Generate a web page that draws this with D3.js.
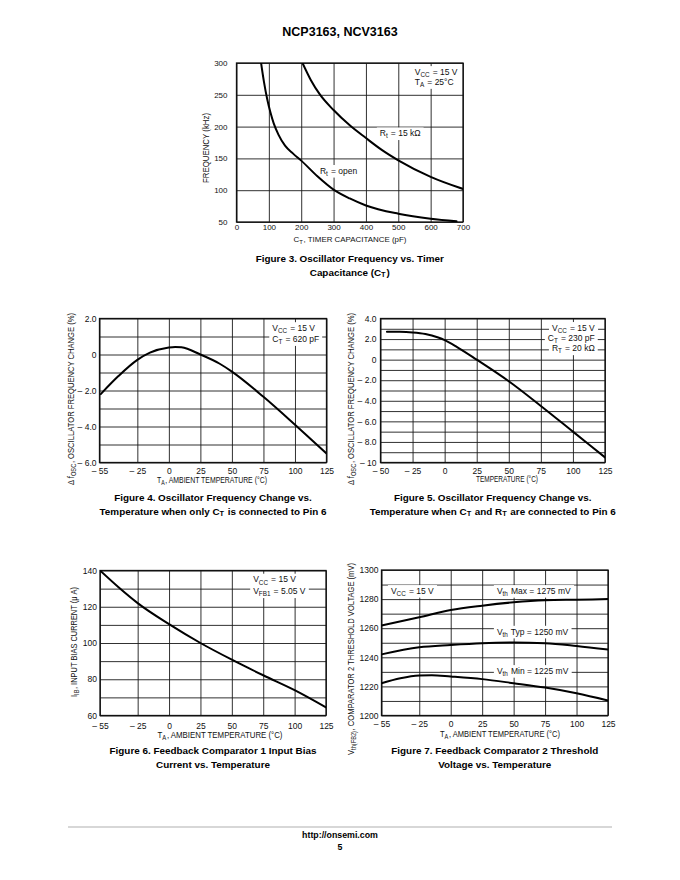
<!DOCTYPE html>
<html><head><meta charset="utf-8">
<script src="https://cdn.jsdelivr.net/npm/d3@7"></script>
<style>body{margin:0;background:#fff}svg{display:block}</style>
</head><body>
<script>
// ---------------- DATA ----------------
// Figure 3: frequency vs timer capacitance
const fig3CtOpen = [76, 85, 95, 105, 115, 130, 150, 175, 200, 250, 300, 350, 400, 500, 600, 680];
const fig3FreqOpen = [300, 270, 243, 222, 205, 187, 170, 157.5, 146.5, 122, 101, 87, 76, 63, 55, 51];
const fig3Ct15k = [204, 230, 257, 300, 350, 400, 450, 500, 600, 700];
const fig3Freq15k = [300, 273, 251, 226, 202, 182, 163, 147, 121, 102];
const fig3XTicks = [0, 100, 200, 300, 400, 500, 600, 700];
const fig3XLabels = ["0", "100", "200", "300", "400", "500", "600", "700"];
const fig3YTicks = [50, 100, 150, 200, 250, 300];
const fig3YLabels = ["50", "100", "150", "200", "250", "300"];

// Figure 4: oscillator freq change (CT only)
const fig4Temp = [-54, -40, -25, -15, 0, 5, 10, 25, 40, 50, 75, 100, 125];
const fig4Change = [-2.2, -1.2, -0.3, 0.1, 0.39, 0.42, 0.4, 0.0, -0.5, -0.95, -2.35, -3.9, -5.5];
const tempTicks55 = [-55, -25, 0, 25, 50, 75, 100, 125];
const tempLabels55 = ["– 55", "– 25", "0", "25", "50", "75", "100", "125"];
const fig4YTicks = [2, 0, -2, -4, -6];
const fig4YLabels = ["2.0", "0", "– 2.0", "– 4.0", "– 6.0"];

// Figure 5: oscillator freq change (CT and RT)
const fig5Temp = [-45, -35, -25, -15, -5, 0, 10, 25, 50, 75, 100, 125];
const fig5Change = [2.7, 2.7, 2.65, 2.5, 2.15, 1.9, 1.2, 0.0, -2.1, -4.5, -7.0, -9.5];
const fig5XTicks = [-50, -25, 0, 25, 50, 75, 100, 125];
const fig5XLabels = ["– 50", "– 25", "0", "25", "50", "75", "100", "125"];
const fig5YTicks = [4, 2, 0, -2, -4, -6, -8, -10];
const fig5YLabels = ["4.0", "2.0", "0", "– 2.0", "– 4.0", "– 6.0", "– 8.0", "– 10"];

// Figure 6: input bias current
const fig6Temp = [-55, -40, -25, 0, 25, 50, 75, 100, 125];
const fig6Current = [140, 130.6, 122, 110.4, 100, 90.8, 82.2, 74, 64.5];
const fig6YTicks = [60, 80, 100, 120, 140];
const fig6YLabels = ["60", "80", "100", "120", "140"];

// Figure 7: comparator 2 threshold voltage
const fig7Temp = [-55, -25, 0, 25, 50, 75, 100, 125];
const fig7Max = [1261.8, 1267.5, 1272.5, 1275.5, 1277.8, 1279.2, 1279.6, 1280];
const fig7Typ = [1242, 1246.9, 1248.5, 1249.7, 1250.1, 1249.7, 1247.8, 1245.3];
const fig7TempMin = [-55, -40, -25, -15, 0, 25, 50, 75, 100, 125];
const fig7Min = [1222.2, 1225.6, 1227.5, 1227.7, 1226.8, 1225, 1222.2, 1219.2, 1215.3, 1210.3];
const fig7YTicks = [1200, 1220, 1240, 1260, 1280, 1300];
const fig7YLabels = ["1200", "1220", "1240", "1260", "1280", "1300"];

// ---------------- DRAWING ----------------
const FONT = "'Liberation Sans Narrow','Liberation Sans',Arial,sans-serif";
const BOLD = "'Liberation Sans',Arial,sans-serif";
const svg = d3.select("body").append("svg").attr("width", 680).attr("height", 880)
  .style("background", "#fff");

function rich(sel, parts, size) {
  parts.forEach(p => {
    if (typeof p === "string") sel.append("tspan").text(p);
    else {
      sel.append("tspan").attr("font-size", size * 0.75).attr("dy", size * 0.25).text(p.sub);
      sel.append("tspan").attr("dy", -size * 0.25).text("\u200A");
    }
  });
}

function chart(c) {
  const fs = c.fs || 8.5;
  const g = svg.append("g").attr("transform", `translate(${c.left},${c.top})`);
  const x = d3.scaleLinear().domain(c.xDomain).range([0, c.w]);
  const y = d3.scaleLinear().domain(c.yDomain).range([c.h, 0]);
  // grid via axes
  const gx = g.append("g").attr("transform", `translate(0,${c.h})`)
    .call(d3.axisBottom(x).tickValues(c.xGrid).tickSizeInner(-c.h).tickSizeOuter(0).tickFormat(""));
  const gy = g.append("g")
    .call(d3.axisLeft(y).tickValues(c.yGrid).tickSizeInner(-c.w).tickSizeOuter(0).tickFormat(""));
  [gx, gy].forEach(a => { a.select(".domain").remove(); a.selectAll("line").attr("stroke", "#1a1a1a").attr("stroke-width", 0.9); });
  // tick labels
  const lx = g.append("g").attr("transform", `translate(0,${c.h})`)
    .call(d3.axisBottom(x).tickValues(c.xTicks).tickSize(0).tickPadding(c.xPad)
      .tickFormat((d, i) => c.xLabels[i]));
  const ly = g.append("g")
    .call(d3.axisLeft(y).tickValues(c.yTicks).tickSize(0).tickPadding(c.yPad)
      .tickFormat((d, i) => c.yLabels[i]));
  [lx, ly].forEach(a => {
    a.select(".domain").remove();
    a.selectAll("text").attr("font-family", FONT).attr("font-size", fs).attr("fill", "#111");
  });
  // frame
  g.append("rect").attr("width", c.w).attr("height", c.h).attr("fill", "none")
    .attr("stroke", "#111").attr("stroke-width", 1.3);
  // annotations with white background
  const ann = g.append("g");
  (c.notes || []).forEach(n => {
    const t = ann.append("text").attr("x", x(n.x)).attr("y", y(n.y))
      .attr("font-family", FONT).attr("font-size", 8.5).attr("fill", "#111")
      .attr("dominant-baseline", "middle").attr("text-anchor", n.anchor || "start");
    rich(t, n.parts, 8.5);
  });
  // curves
  const clipId = "clip" + c.id;
  g.append("clipPath").attr("id", clipId).append("rect").attr("width", c.w).attr("height", c.h);
  const line = d3.line().x(d => x(d[0])).y(d => y(d[1])).curve(d3.curveMonotoneX);
  c.series.forEach(s => {
    g.append("path").attr("clip-path", `url(#${clipId})`)
      .datum(s.xs.map((v, i) => [v, s.ys[i]]))
      .attr("d", line).attr("fill", "none").attr("stroke", "#000").attr("stroke-width", 2)
      .attr("stroke-linecap", "round");
  });
  // backgrounds for notes
  ann.selectAll("text").each(function () {
    const b = this.getBBox();
    ann.insert("rect", "text").attr("x", b.x - 3).attr("y", b.y - 1)
      .attr("width", b.width + 6).attr("height", b.height + 2).attr("fill", "#fff");
  });
  // axis titles
  const yt = svg.append("text")
    .attr("transform", `translate(${c.left + c.yTitle.dx},${c.yTitle.cy}) rotate(-90)`)
    .attr("text-anchor", "middle").attr("dominant-baseline", "middle")
    .attr("font-family", FONT).attr("font-size", 8.5).attr("fill", "#111");
  rich(yt, c.yTitle.parts, 8.5);
  if (c.yTitle.len) yt.attr("textLength", c.yTitle.len).attr("lengthAdjust", "spacingAndGlyphs");
  const xt = svg.append("text").attr("x", c.xTitle.cx).attr("y", c.top + c.h + c.xTitle.dy)
    .attr("text-anchor", "middle").attr("dominant-baseline", "middle")
    .attr("font-family", FONT).attr("font-size", fs).attr("fill", "#111");
  rich(xt, c.xTitle.parts, fs);
  if (c.xTitle.len) xt.attr("textLength", c.xTitle.len).attr("lengthAdjust", "spacingAndGlyphs");
  // caption
  c.caption.forEach((ln, i) => {
    const t = svg.append("text").attr("x", c.left + c.w / 2).attr("y", c.capY + i * 13.5)
      .attr("text-anchor", "middle").attr("dominant-baseline", "middle")
      .attr("font-family", BOLD).attr("font-weight", "bold").attr("font-size", 9.9).attr("fill", "#000");
    rich(t, ln, 9.9);
  });
}

const ambient = ["T", {sub: "A"}, ", AMBIENT TEMPERATURE (°C)"];
const dfosc = ["Δ f", {sub: "OSC"}, ", OSCILLATOR FREQUENCY CHANGE (%)"];

chart({
  id: 3, left: 236.5, top: 63, w: 226.5, h: 159, fs: 8,
  xDomain: [0, 700], yDomain: [50, 300],
  xGrid: fig3XTicks, yGrid: fig3YTicks,
  xTicks: fig3XTicks, xLabels: fig3XLabels, yTicks: fig3YTicks, yLabels: fig3YLabels,
  xPad: 2, yPad: 9,
  series: [{xs: fig3CtOpen, ys: fig3FreqOpen}, {xs: fig3Ct15k, ys: fig3Freq15k}],
  notes: [
    {x: 551, y: 284.5, parts: ["V", {sub: "CC"}, " = 15 V"]},
    {x: 551, y: 268.5, parts: ["T", {sub: "A"}, " = 25°C"]},
    {x: 443, y: 188, parts: ["R", {sub: "t"}, " = 15 kΩ"]},
    {x: 258, y: 129, parts: ["R", {sub: "t"}, " = open"]}
  ],
  yTitle: {dx: -29.5, cy: 148, parts: ["FREQUENCY (kHz)"], len: 70},
  xTitle: {cx: 350, dy: 17.5, parts: ["C", {sub: "T"}, ", TIMER CAPACITANCE (pF)"], len: 113},
  capY: 259,
  caption: [["Figure 3. Oscillator Frequency vs. Timer"], ["Capacitance (C", {sub: "T"}, ")"]]
});

chart({
  id: 4, left: 99.5, top: 318.5, w: 227, h: 144,
  xDomain: [-55, 125], yDomain: [-6, 2],
  xGrid: tempTicks55, yGrid: d3.range(-6, 2.1, 1),
  xTicks: tempTicks55, xLabels: tempLabels55, yTicks: fig4YTicks, yLabels: fig4YLabels,
  xPad: 5, yPad: 3,
  series: [{xs: fig4Temp, ys: fig4Change}],
  notes: [
    {x: 82, y: 1.42, parts: ["V", {sub: "CC"}, " = 15 V"]},
    {x: 82, y: 0.8, parts: ["C", {sub: "T"}, " = 620 pF"]}
  ],
  yTitle: {dx: -27.5, cy: 399, parts: dfosc, len: 172},
  xTitle: {cx: 212, dy: 18, parts: ambient, len: 110},
  capY: 498,
  caption: [["Figure 4. Oscillator Frequency Change vs."], ["Temperature when only C", {sub: "T"}, " is connected to Pin 6"]]
});

chart({
  id: 5, left: 380.5, top: 318.5, w: 224.5, h: 144,
  xDomain: [-50, 125], yDomain: [-10, 4],
  xGrid: fig5XTicks, yGrid: d3.range(-10, 4.1, 1),
  xTicks: fig5XTicks, xLabels: fig5XLabels, yTicks: fig5YTicks, yLabels: fig5YLabels,
  xPad: 5, yPad: 4,
  series: [{xs: fig5Temp, ys: fig5Change}],
  notes: [
    {x: 117, y: 3, anchor: "end", parts: ["V", {sub: "CC"}, " = 15 V"]},
    {x: 117, y: 2, anchor: "end", parts: ["C", {sub: "T"}, " = 230 pF"]},
    {x: 117, y: 1, anchor: "end", parts: ["R", {sub: "T"}, " = 20 kΩ"]}
  ],
  yTitle: {dx: -28.5, cy: 399, parts: dfosc, len: 172},
  xTitle: {cx: 507, dy: 17, parts: ["TEMPERATURE (°C)"], len: 62},
  capY: 498,
  caption: [["Figure 5. Oscillator Frequency Change vs."], ["Temperature when C", {sub: "T"}, " and R", {sub: "T"}, " are connected to Pin 6"]]
});

chart({
  id: 6, left: 100, top: 570.5, w: 226, h: 145,
  xDomain: [-55, 125], yDomain: [60, 140],
  xGrid: tempTicks55, yGrid: d3.range(60, 141, 10),
  xTicks: tempTicks55, xLabels: tempLabels55, yTicks: fig6YTicks, yLabels: fig6YLabels,
  xPad: 7, yPad: 3,
  series: [{xs: fig6Temp, ys: fig6Current}],
  notes: [
    {x: 67, y: 134.5, parts: ["V", {sub: "CC"}, " = 15 V"]},
    {x: 67, y: 128, parts: ["V", {sub: "FB1"}, " = 5.05 V"]}
  ],
  yTitle: {dx: -25, cy: 642, parts: ["I", {sub: "IB"}, ", INPUT BIAS CURRENT (μ A)"], len: 110},
  xTitle: {cx: 220, dy: 20.5, parts: ambient, len: 125},
  capY: 751,
  caption: [["Figure 6. Feedback Comparator 1 Input Bias"], ["Current vs. Temperature"]]
});

chart({
  id: 7, left: 381.5, top: 570, w: 226.5, h: 145.5,
  xDomain: [-55, 125], yDomain: [1200, 1300],
  xGrid: tempTicks55, yGrid: d3.range(1200, 1301, 10),
  xTicks: tempTicks55, xLabels: tempLabels55, yTicks: fig7YTicks, yLabels: fig7YLabels,
  xPad: 5, yPad: 3,
  series: [{xs: fig7Temp, ys: fig7Max}, {xs: fig7Temp, ys: fig7Typ}, {xs: fig7TempMin, ys: fig7Min}],
  notes: [
    {x: -47.5, y: 1285, parts: ["V", {sub: "CC"}, " = 15 V"]},
    {x: 36.7, y: 1285, parts: ["V", {sub: "th"}, " Max = 1275 mV"]},
    {x: 36.7, y: 1257, parts: ["V", {sub: "th"}, " Typ = 1250 mV"]},
    {x: 36.7, y: 1230, parts: ["V", {sub: "th"}, " Min = 1225 mV"]}
  ],
  yTitle: {dx: -29.5, cy: 659, parts: ["V", {sub: "th(FB2)"}, ", COMPARATOR 2  THRESHOLD VOLTAGE (mV)"], len: 192},
  xTitle: {cx: 500, dy: 19.5, parts: ambient, len: 120},
  capY: 751,
  caption: [["Figure 7. Feedback Comparator 2 Threshold"], ["Voltage vs. Temperature"]]
});

// page header / footer
svg.append("text").attr("x", 340).attr("y", 33).attr("text-anchor", "middle")
  .attr("dominant-baseline", "middle").attr("font-family", BOLD).attr("font-weight", "bold")
  .attr("font-size", 12.5).text("NCP3163, NCV3163");
svg.append("line").attr("x1", 68).attr("x2", 612).attr("y1", 827).attr("y2", 827)
  .attr("stroke", "#b0b0b0").attr("stroke-width", 1.2);
svg.append("text").attr("x", 340).attr("y", 836).attr("text-anchor", "middle")
  .attr("dominant-baseline", "middle").attr("font-family", BOLD).attr("font-weight", "bold")
  .attr("font-size", 8.8).text("http://onsemi.com");
svg.append("text").attr("x", 340).attr("y", 848).attr("text-anchor", "middle")
  .attr("dominant-baseline", "middle").attr("font-family", BOLD).attr("font-weight", "bold")
  .attr("font-size", 8.8).text("5");
</script>
</body></html>
